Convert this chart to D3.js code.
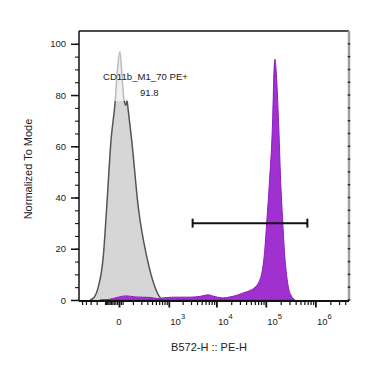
<!DOCTYPE html>
<html>
<head>
<meta charset="utf-8">
<script src="https://cdn.jsdelivr.net/npm/d3@7"></script>
<style>
  body { margin: 0; background: #fff; }
  text { font-family: "Liberation Sans", Arial, sans-serif; fill: #222; }
</style>
</head>
<body>
<div id="chart"></div>
<script>
// histogram overlay, normalized to mode

// control (unstained) sample
var ctrlX = [-313, -241, -178, -118, -85, -49, -22, -8, 5, 16, 29, 42, 49, 59, 88, 160, 288, 475, 628, 738];
var ctrlY = [0, 1, 5, 17, 36, 62.5, 77, 90, 97, 88, 78, 76, 78, 74, 62.5, 36, 17, 5, 1, 0];

// stained sample
var posX = [-156, -57, -22, 15, 42, 121, 354, 563, 821, 1370, 2860, 4610, 6740, 9370, 13640, 18940, 25850,
    38100, 48060, 60600, 74800, 85200, 95200, 104500, 118000, 138200, 146600, 153700, 161000, 179200,
    200300, 219900, 236800, 256300, 285300, 323300, 389400];
var posY = [0, 0.3, 0.8, 1.4, 1.6, 1.2, 1.0, 0.5, 0.9, 1.1, 1.1, 1.4, 2.0, 1.3, 0.8, 1.2, 1.8,
    3.0, 3.7, 5, 7.6, 11.6, 19.4, 30.4, 45.6, 71.7, 90, 94, 90, 71.7,
    45.6, 30.4, 19.4, 11.6, 5, 1.8, 0];

// gate
var gateName = "CD11b_M1_70 PE+";
var gatePct = "91.8";
var gateRange = [3245, 688800];
var gateLevel = 30;

var xMajor = [0, 1e3, 1e4, 1e5, 1e6];
var xMajorExp = [null, 3, 4, 5, 6];
var yMajor = [0, 20, 40, 60, 80, 100];

var W = 389, H = 372;
var box = { left: 79, right: 349, top: 31, bottom: 301 };

var svg = d3.select("#chart").append("svg")
    .attr("width", W)
    .attr("height", H);

// biexponential-like x scale
var x = d3.scaleSymlog()
    .constant(110)
    .domain([-594, 4.76e6])
    .range([box.left, box.right]);

var y = d3.scaleLinear()
    .domain([-0.4, 105])
    .range([box.bottom, box.top]);

var ctrl = ctrlX.map(function (v, i) { return { x: v, y: ctrlY[i] }; });
var pos = posX.map(function (v, i) { return { x: v, y: posY[i] }; });

var area = d3.area()
    .x(function (d) { return x(d.x); })
    .y0(y(0))
    .y1(function (d) { return y(d.y); })
    .curve(d3.curveMonotoneX);

var line = d3.line()
    .x(function (d) { return x(d.x); })
    .y(function (d) { return y(d.y); })
    .curve(d3.curveMonotoneX);

svg.append("path")
    .attr("d", area(ctrl))
    .attr("fill", "#d6d6d6");

svg.append("path")
    .attr("d", area(pos))
    .attr("fill", "#a030d0")
    .attr("stroke", "#8d1dbf")
    .attr("stroke-width", 1);

svg.append("path")
    .attr("d", line(ctrl))
    .attr("fill", "none")
    .attr("stroke", "#555")
    .attr("stroke-width", 1.5);

// gate bar
var gy = y(gateLevel);
var gate = svg.append("g").attr("stroke", "#111").attr("stroke-width", 2);
gate.append("line")
    .attr("x1", x(gateRange[0])).attr("x2", x(gateRange[1]))
    .attr("y1", gy).attr("y2", gy);
gateRange.forEach(function (v) {
    gate.append("line")
        .attr("x1", x(v)).attr("x2", x(v))
        .attr("y1", gy - 4.5).attr("y2", gy + 4.5);
});

// gate label with translucent background
svg.append("rect")
    .attr("x", 101).attr("y", 49)
    .attr("width", 99).attr("height", 52)
    .attr("fill", "#fff")
    .attr("fill-opacity", 0.6);

svg.append("text")
    .attr("x", 103).attr("y", 80)
    .attr("font-size", 9.6)
    .text(gateName);
svg.append("text")
    .attr("x", 140).attr("y", 96)
    .attr("font-size", 9.6)
    .text(gatePct);

// frame
svg.append("line")
    .attr("x1", box.left).attr("x2", box.right)
    .attr("y1", box.top).attr("y2", box.top)
    .attr("stroke", "#111").attr("stroke-width", 1.5);
svg.append("line")
    .attr("x1", box.right).attr("x2", box.right)
    .attr("y1", box.top).attr("y2", box.bottom)
    .attr("stroke", "#a0a0a0").attr("stroke-width", 2.5);

var yMinor = d3.range(0, 101, 5);
svg.append("g").selectAll("line")
    .data(yMinor)
    .enter().append("line")
    .attr("x1", box.right - 1.2).attr("x2", box.right + 1.2)
    .attr("y1", function (d) { return y(d); })
    .attr("y2", function (d) { return y(d); })
    .attr("stroke", "#222").attr("stroke-width", 1.5);

// y axis
var yAxisMinor = d3.axisLeft(y).tickValues(yMinor).tickSize(4).tickFormat("");
var yAxis = d3.axisLeft(y).tickValues(yMajor).tickSize(8).tickPadding(5);

svg.append("g")
    .attr("transform", "translate(" + box.left + ",0)")
    .call(yAxisMinor)
    .call(function (g) { g.select(".domain").remove(); });

var gY = svg.append("g")
    .attr("class", "axis y")
    .attr("transform", "translate(" + box.left + ",0)")
    .call(yAxis);
gY.select(".domain").attr("d", "M0," + box.top + "V" + box.bottom);
gY.selectAll("line, path").attr("stroke", "#111").attr("stroke-width", 1.5);
gY.selectAll("text")
    .attr("font-size", 9.5)
    .attr("font-family", "Liberation Sans, Arial, sans-serif")
    .attr("fill", "#222");

// x axis
var xMinor = [-500, -400, -300, -200, -100]
    .concat(d3.range(-90, 21, 10))
    .concat(d3.range(100, 901, 100));
[3, 4, 5, 6].forEach(function (k) {
    for (var m = 2; m <= 9; m++) xMinor.push(m * Math.pow(10, k));
});
xMinor = xMinor.filter(function (v) { return x(v) <= box.right - 1; });

var xAxisMinor = d3.axisBottom(x).tickValues(xMinor).tickSize(4).tickFormat("");
var xAxis = d3.axisBottom(x).tickValues(xMajor).tickSize(6.5).tickFormat("");

var gXm = svg.append("g")
    .attr("transform", "translate(0," + box.bottom + ")")
    .call(xAxisMinor);
gXm.select(".domain").remove();
gXm.selectAll("line").attr("stroke", "#111").attr("stroke-width", 1.2);

var gX = svg.append("g")
    .attr("class", "axis x")
    .attr("transform", "translate(0," + box.bottom + ")")
    .call(xAxis);
gX.select(".domain").attr("d", "M" + box.left + ",0H" + box.right);
gX.selectAll("line, path").attr("stroke", "#111").attr("stroke-width", 1.8);

xMajor.forEach(function (v, i) {
    var t = svg.append("text")
        .attr("y", 325)
        .attr("font-size", 9.5);
    if (xMajorExp[i] === null) {
        t.attr("x", x(v)).attr("text-anchor", "middle").text("0");
    } else {
        t.attr("x", x(v) + 1.5);
        t.append("tspan").text("10");
        t.append("tspan").attr("dy", -6).attr("font-size", 7.5).text(xMajorExp[i]);
    }
});

// axis titles
svg.append("text")
    .attr("x", 209).attr("y", 351)
    .attr("text-anchor", "middle")
    .attr("font-size", 11)
    .text("B572-H :: PE-H");

svg.append("text")
    .attr("transform", "translate(32,169) rotate(-90)")
    .attr("text-anchor", "middle")
    .attr("font-size", 11)
    .text("Normalized To Mode");
</script>
</body>
</html>
